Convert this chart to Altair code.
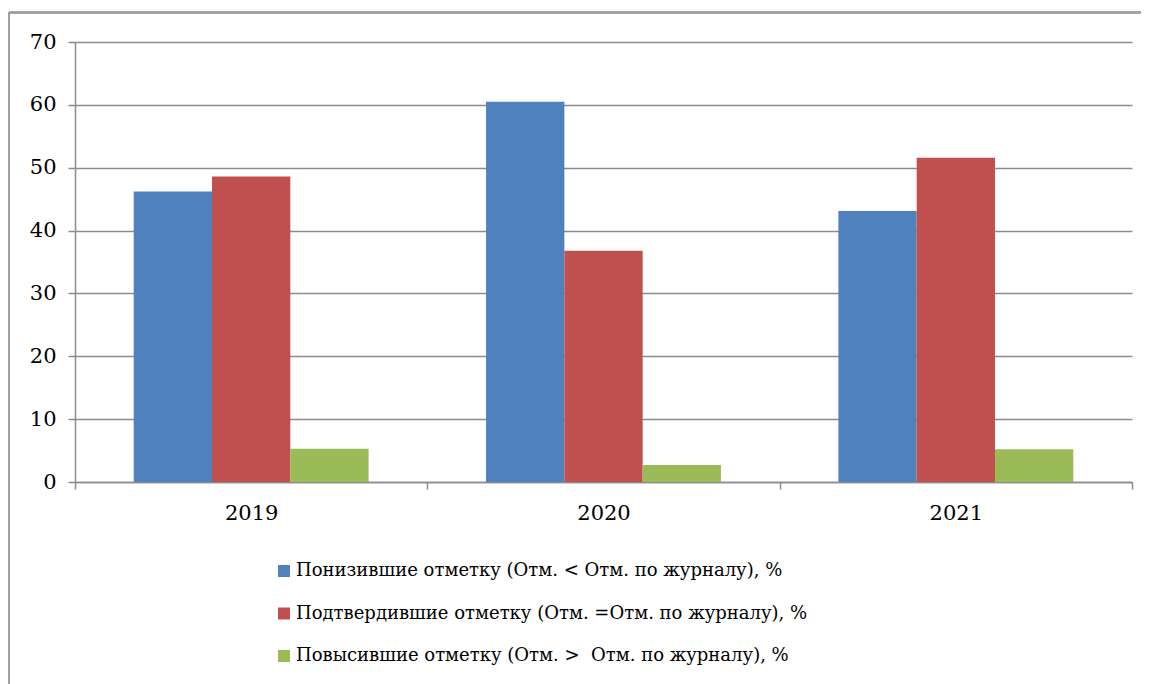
import altair as alt
import pandas as pd

years = ["2019", "2020", "2021"]
series = [
    "Понизившие отметку (Отм. < Отм. по журналу), %",
    "Подтвердившие отметку (Отм. =Отм. по журналу), %",
    "Повысившие отметку (Отм. >\u00a0 Отм. по журналу), %",
]
lowered = [46.2, 60.5, 43.1]
confirmed = [48.6, 36.8, 51.6]
raised = [5.3, 2.7, 5.2]
colors = ["#4F81BD", "#C0504D", "#9BBB59"]

rows = []
for i, y in enumerate(years):
    for s, vals in zip(series, [lowered, confirmed, raised]):
        rows.append({"year": y, "series": s, "value": vals[i]})
df = pd.DataFrame(rows)

FONT = "DejaVu Serif"
GRID = "#8c8c8c"

bars = alt.Chart(df).mark_bar().encode(
    x=alt.X("year:N", sort=years, title=None,
            scale=alt.Scale(paddingInner=0, paddingOuter=0),
            axis=alt.Axis(labelAngle=0, tickBand="extent", tickSize=7,
                          tickColor=GRID, domainColor=GRID, tickWidth=1.5,
                          domainWidth=1.5, labelFontSize=21,
                          labelColor="black", labelPadding=13, grid=False)),
    xOffset=alt.XOffset("series:N", sort=series,
                        scale=alt.Scale(paddingInner=0, paddingOuter=0.75)),
    y=alt.Y("value:Q", title=None,
            scale=alt.Scale(domain=[0, 70], nice=False),
            axis=alt.Axis(values=list(range(0, 71, 10)), tickSize=7,
                          tickColor=GRID, domainColor=GRID, tickWidth=1.5,
                          domainWidth=1.5, gridColor=GRID, gridWidth=1.5,
                          labelFontSize=21, labelColor="black",
                          labelPadding=12)),
    color=alt.Color("series:N", sort=series,
                    scale=alt.Scale(domain=series, range=colors),
                    legend=alt.Legend(title=None, orient="none", legendX=200,
                                      legendY=520, direction="vertical",
                                      symbolType="square", symbolSize=144,
                                      symbolStrokeWidth=0,
                                      labelFontSize=18, labelColor="black",
                                      labelOffset=3, rowPadding=24.5,
                                      labelLimit=900)),
)

frame_top = alt.Chart(df).mark_rule(color="#a0a0a0", strokeWidth=1.5).encode(
    x=alt.value(-66), x2=alt.value(1100), y=alt.value(-29.5)
)
frame_left = alt.Chart(df).mark_rule(color="#a0a0a0", strokeWidth=1.5).encode(
    x=alt.value(-66), y=alt.value(-29.5), y2=alt.value(700)
)

chart = alt.layer(bars, frame_top, frame_left).properties(
    width=1057, height=440,
    autosize=alt.AutoSizeParams(type="none"),
    padding={"left": 67, "top": 34, "right": 9, "bottom": 210},
).configure(background="white", font=FONT).configure_view(stroke=None)

chart.save("out.html", embed_options={"renderer": "svg", "actions": False})
